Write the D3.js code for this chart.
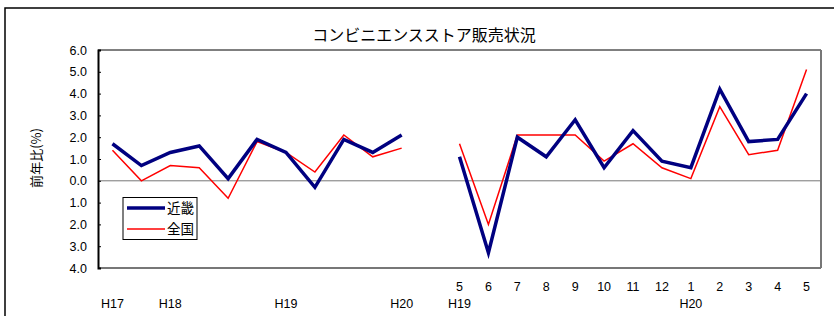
<!DOCTYPE html>
<html>
<meta charset="utf-8">
<head>
<script src="https://cdnjs.cloudflare.com/ajax/libs/d3/7.8.5/d3.min.js"></script>
<style>
  body { margin: 0; background: #fff; }
  text { font-family: "Liberation Sans", Arial, sans-serif; }
  .jp { font-family: "Noto Sans CJK JP", sans-serif; }
</style>
</head>
<body>
<script>
// 月ラベル（上段）と年ラベル（下段）, index 11 は空白区間
const months = ["", "", "", "", "", "", "", "", "", "", "", "",
  "5", "6", "7", "8", "9", "10", "11", "12", "1", "2", "3", "4", "5"];
const years = ["H17", "", "H18", "", "", "", "H19", "", "", "", "H20", "",
  "H19", "", "", "", "", "", "", "", "H20", "", "", "", ""];
const kinki = [1.7, 0.7, 1.3, 1.6, 0.1, 1.9, 1.3, -0.3, 1.9, 1.3, 2.1, null,
  1.1, -3.3, 2.0, 1.1, 2.8, 0.6, 2.3, 0.9, 0.6, 4.2, 1.8, 1.9, 4.0];
const zenkoku = [1.4, 0.0, 0.7, 0.6, -0.8, 1.8, 1.3, 0.4, 2.1, 1.1, 1.5, null,
  1.7, -2.0, 2.1, 2.1, 2.1, 0.9, 1.7, 0.6, 0.1, 3.4, 1.2, 1.4, 5.1];
const yTicks = [6, 5, 4, 3, 2, 1, 0, -1, -2, -3, -4];

const W = 834, H = 316;
const pL = 98, pR = 821, pT = 50, pB = 268;

const svg = d3.select("body").append("svg")
  .attr("width", W).attr("height", H);

// 外枠
svg.append("rect").attr("x", 5).attr("y", 8)
  .attr("width", W + 10).attr("height", H + 10)
  .attr("fill", "none").attr("stroke", "#000").attr("stroke-width", 1.5);

const x = d3.scaleBand().domain(d3.range(months.length)).range([pL, pR]);
const y = d3.scaleLinear().domain([-4, 6]).range([pB, pT]);

// plot frame
svg.append("line").attr("x1", pL).attr("x2", pR).attr("y1", pT).attr("y2", pT)
  .attr("stroke", "#000").attr("stroke-width", 1);
svg.append("line").attr("x1", pR).attr("x2", pR).attr("y1", pT).attr("y2", pB)
  .attr("stroke", "#777").attr("stroke-width", 2);
svg.append("line").attr("x1", pL).attr("x2", pR).attr("y1", pB).attr("y2", pB)
  .attr("stroke", "#777").attr("stroke-width", 2);
// zero line
svg.append("line").attr("x1", pL).attr("x2", pR).attr("y1", y(0)).attr("y2", y(0))
  .attr("stroke", "#777").attr("stroke-width", 1);

const yAxis = d3.axisRight(y).tickValues(yTicks).tickSize(3)
  .tickFormat(d => Math.abs(d).toFixed(1));
const gy = svg.append("g").attr("transform", `translate(${pL},0)`).call(yAxis);
gy.select(".domain").attr("stroke", "#000").attr("stroke-width", 2);
gy.selectAll(".tick line").attr("stroke", "#000");
gy.selectAll(".tick text").attr("x", -11).attr("text-anchor", "end")
  .attr("font-size", 12.5).attr("fill", "#000")
  .attr("font-family", "Liberation Sans, Arial, sans-serif");

// x labels, two rows
const xl = svg.append("g").attr("font-size", 12.5).attr("text-anchor", "middle");
xl.selectAll("text.m").data(months).enter().append("text").attr("class", "m")
  .attr("x", (d, i) => x(i) + x.bandwidth() / 2).attr("y", 291).text(d => d);
xl.selectAll("text.yr").data(years).enter().append("text").attr("class", "yr")
  .attr("x", (d, i) => x(i) + x.bandwidth() / 2).attr("y", 308).text(d => d);

const line = d3.line()
  .defined(d => d != null)
  .x((d, i) => x(i) + x.bandwidth() / 2)
  .y(d => y(d));

svg.append("path").datum(zenkoku).attr("d", line)
  .attr("fill", "none").attr("stroke", "#ff0000").attr("stroke-width", 1.5);
svg.append("path").datum(kinki).attr("d", line)
  .attr("fill", "none").attr("stroke", "#000080").attr("stroke-width", 3.5);

// title
svg.append("text").attr("class", "jp").attr("x", 424).attr("y", 41)
  .attr("text-anchor", "middle").attr("font-size", 16).text("コンビニエンスストア販売状況");

// y title
svg.append("text").attr("class", "jp")
  .attr("transform", "translate(41,158) rotate(-90)")
  .attr("text-anchor", "middle").attr("font-size", 13).text("前年比(%)");

// legend
const lg = svg.append("g");
lg.append("rect").attr("x", 123).attr("y", 197.5).attr("width", 74).attr("height", 42)
  .attr("fill", "#fff").attr("stroke", "#000").attr("stroke-width", 1);
const items = [["近畿", "#000080", 3.5], ["全国", "#ff0000", 1.5]];
items.forEach((it, i) => {
  const yy = 208 + i * 21;
  lg.append("line").attr("x1", 127).attr("x2", 165).attr("y1", yy).attr("y2", yy)
    .attr("stroke", it[1]).attr("stroke-width", it[2]);
  lg.append("text").attr("class", "jp").attr("x", 167).attr("y", yy + 5)
    .attr("font-size", 13.5).text(it[0]);
});
</script>
</body>
</html>
